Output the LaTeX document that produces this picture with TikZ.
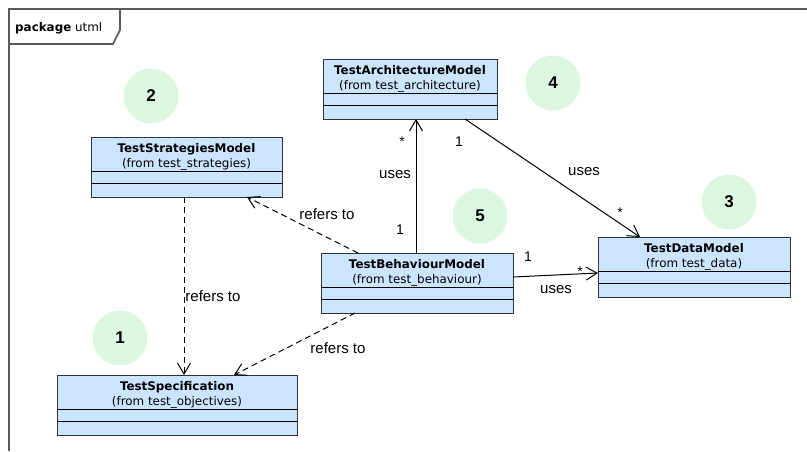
\documentclass[tikz,border=0pt]{standalone}
\usepackage{fontspec}
\setmainfont{Liberation Sans}
\newfontfamily\boxfont{DejaVu Sans}
\usetikzlibrary{arrows.meta,calc}

\definecolor{boxfill}{RGB}{204,229,255}
\definecolor{boxline}{RGB}{50,50,50}
\definecolor{framegray}{RGB}{90,90,90}
\definecolor{numfill}{RGB}{221,246,224}

% UML class with name compartment and two empty compartments
\newcommand{\umlclass}[6]{%
  \node[classbox, minimum width=#4pt, anchor=north west] (#1) at (#2,#3) {};
  \node[classtext, anchor=north] (#1-t) at ($(#1.north)+(0,6)$) {\textbf{#5}\\(#6)};
  \draw[compline] ($(#1.north west)+(0,34)$) -- ($(#1.north east)+(0,34)$);
  \draw[compline] ($(#1.north west)+(0,46)$) -- ($(#1.north east)+(0,46)$);
}

\begin{document}
\begin{tikzpicture}[x=1pt,y=-1pt,
  classbox/.style={draw=boxline, fill=boxfill, line width=1pt, minimum height=60pt, inner sep=0pt, outer sep=0pt},
  classtext/.style={inner sep=0pt, align=center, font=\boxfont\fontsize{11.9}{15}\selectfont},
  compline/.style={draw=black, line width=1pt},
  frameline/.style={draw=framegray, line width=1.6pt},
  numcircle/.style={circle, fill=numfill, minimum size=55pt, inner sep=0pt, font=\bfseries\fontsize{17}{17}\selectfont},
  lbl/.style={inner sep=0pt, font=\fontsize{15}{15}\selectfont},
  mult/.style={inner sep=0pt, font=\fontsize{14}{14}\selectfont},
  dep/.style={draw=black, line width=1pt, dash pattern=on 6pt off 4pt, -{Straight Barb[length=11pt,width=13pt]}},
  assoc/.style={draw=black, line width=1pt, -{Straight Barb[length=11pt,width=13pt]}}
]
\useasboundingbox (0,0) rectangle (807,451);

% package frame and name tab
\draw[frameline] (9,451) -- (9,9) -- (807,9);
\draw[frameline] (9,44) -- (113,44) -- (120,30) -- (120,9);
\node[anchor=base west, inner sep=0pt, font=\boxfont\fontsize{11.9}{14}\selectfont] (pkg) at (15,31) {\textbf{package} utml};

% numbered markers
\node[numcircle] (n1) at (120,338) {1};
\node[numcircle] (n2) at (151,96) {2};
\node[numcircle] (n3) at (729,202) {3};
\node[numcircle] (n4) at (553,83) {4};
\node[numcircle] (n5) at (480,216) {5};

% classes
\umlclass{arch}{323}{59}{174}{TestArchitectureModel}{from test\_architecture}
\umlclass{strat}{91}{137}{191}{TestStrategiesModel}{from test\_strategies}
\umlclass{beh}{321}{253}{192}{TestBehaviourModel}{from test\_behaviour}
\umlclass{data}{598}{237}{192}{TestDataModel}{from test\_data}
\umlclass{spec}{57}{375}{240}{TestSpecification}{from test\_objectives}

% dependencies
\draw[dep] ($(strat.south west)+(93,0)$) -- ($(spec.north west)+(127,0)$);
\draw[dep] ($(beh.north west)+(37,0)$) -- ($(strat.south west)+(156,0)$);
\draw[dep] ($(beh.south west)+(34,0)$) -- ($(spec.north west)+(177,0)$);
\node[lbl] (l1) at (213,296) {refers to};
\node[lbl] (l2) at (327,214) {refers to};
\node[lbl] (l3) at (338,348) {refers to};

% associations
\draw[assoc] ($(beh.north west)+(95,0)$) -- ($(arch.south west)+(93,0)$);
\node[mult] (m1) at (402,142) {*};
\node[lbl] (u1) at (395,175) {uses};
\node[mult] (m2) at (400,230) {1};

\draw[assoc] ($(arch.south west)+(142,0)$) -- ($(data.north west)+(42,0)$);
\node[mult] (m3) at (459,142) {1};
\node[lbl] (u2) at (584,172) {uses};
\node[mult] (m4) at (620,213) {*};

\draw[assoc] ($(beh.north east)+(0,24)$) -- ($(data.north west)+(0,36)$);
\node[mult] (m5) at (528,257) {1};
\node[lbl] (u3) at (556,290) {uses};
\node[mult] (m6) at (580,272) {*};
\end{tikzpicture}
\end{document}
